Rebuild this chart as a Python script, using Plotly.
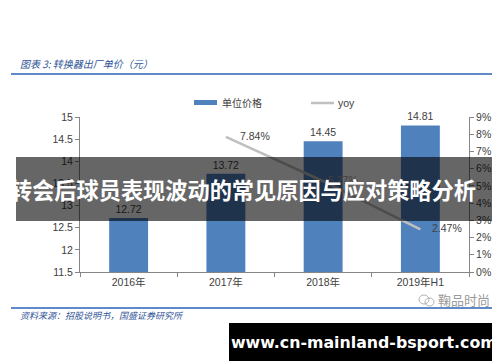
import plotly.graph_objects as go

categories = ["2016年", "2017年", "2018年", "2019年H1"]
unit_price = [12.72, 13.72, 14.45, 14.81]
yoy_cats = ["2017年", "2018年", "2019年H1"]
yoy_vals = [7.84, 5.27, 2.47]
yoy_labels = ["7.84%", "5.27%", "2.47%"]
left_ticks = [11.5, 12, 12.5, 13, 13.5, 14, 14.5, 15]
right_ticks = [0, 1, 2, 3, 4, 5, 6, 7, 8, 9]

W, H = 500, 362
ML, MR, MT, MB = 72, 39, 109, 98
PW, PH = W - ML - MR, H - MT - MB

def px(x):
    return (x - ML) / PW

def py(y):
    return (H - MB - y) / PH

FONT = "Liberation Sans, Noto Sans CJK SC, sans-serif"
CJK = "Noto Sans CJK SC, sans-serif"
AXIS_COLOR = "#868686"
TXT = "#404040"
BLUE_TXT = "#2f5597"

fig = go.Figure()
fig.add_trace(go.Bar(
    x=categories, y=unit_price, width=0.4,
    marker=dict(color="#4f81bd", line=dict(width=0)),
    text=[f"{v:.2f}" for v in unit_price], textposition="outside",
    textfont=dict(size=10.5, color=TXT, family=FONT),
    cliponaxis=False, showlegend=False, yaxis="y",
))
fig.add_trace(go.Scatter(
    x=yoy_cats, y=yoy_vals, mode="lines",
    line=dict(color="#bfbfbf", width=2.5),
    showlegend=False, yaxis="y2", cliponaxis=False,
))

annotations = []
shifts = [12, 3, 10]
for c, v, lab, s in zip(yoy_cats, yoy_vals, yoy_labels, shifts):
    annotations.append(dict(x=c, y=v, xref="x", yref="y2", text=lab, showarrow=False,
                            xanchor="left", yanchor="middle", xshift=s, yshift=1,
                            font=dict(size=10.5, color=TXT, family=FONT)))

shapes = []
shapes.append(dict(type="line", xref="paper", yref="paper", x0=px(3), x1=px(500),
                   y0=py(66), y1=py(66), line=dict(color="#2a62b5", width=1.5)))
shapes.append(dict(type="line", xref="paper", yref="paper", x0=px(3), x1=px(500),
                   y0=py(300), y1=py(300), line=dict(color="#2a62b5", width=1.5)))
# legend
shapes.append(dict(type="rect", xref="paper", yref="paper", x0=px(186), x1=px(209),
                   y0=py(97), y1=py(92), fillcolor="#4f81bd", line=dict(width=0)))
shapes.append(dict(type="line", xref="paper", yref="paper", x0=px(303), x1=px(326),
                   y0=py(95), y1=py(95), line=dict(color="#bfbfbf", width=2.5)))
# overlay banner
shapes.append(dict(type="rect", xref="paper", yref="paper", x0=px(8), x1=px(492),
                   y0=py(213), y1=py(149), fillcolor="rgba(0,0,0,0.6)", line=dict(width=0),
                   layer="above"))
# url box
shapes.append(dict(type="rect", xref="paper", yref="paper", x0=px(221), x1=px(491),
                   y0=py(353), y1=py(315), fillcolor="#000000", line=dict(width=0),
                   layer="above"))
# watermark icon
shapes.append(dict(type="circle", xref="paper", yref="paper", x0=px(411), x1=px(421),
                   y0=py(296), y1=py(287), line=dict(color="#b0b0b0", width=1)))
shapes.append(dict(type="circle", xref="paper", yref="paper", x0=px(417), x1=px(426),
                   y0=py(298), y1=py(290), line=dict(color="#b0b0b0", width=1)))

annotations += [
    dict(xref="paper", yref="paper", x=px(10), y=py(55), text="<i>图表 3: 转换器出厂单价（元）</i>",
         showarrow=False, xanchor="left", yanchor="middle",
         font=dict(size=10, color=BLUE_TXT, family=CJK)),
    dict(xref="paper", yref="paper", x=px(10), y=py(307), text="<i>资料来源：招股说明书，国盛证券研究所</i>",
         showarrow=False, xanchor="left", yanchor="middle",
         font=dict(size=9, color=BLUE_TXT, family=CJK)),
    dict(xref="paper", yref="paper", x=px(212), y=py(94.5), text="单位价格",
         showarrow=False, xanchor="left", yanchor="middle",
         font=dict(size=10, color=TXT, family=CJK)),
    dict(xref="paper", yref="paper", x=px(328), y=py(95), text="yoy",
         showarrow=False, xanchor="left", yanchor="middle",
         font=dict(size=10.5, color=TXT, family=FONT)),
    dict(xref="paper", yref="paper", x=px(428), y=py(291), text="鞠品时尚",
         showarrow=False, xanchor="left", yanchor="middle",
         font=dict(size=13, color="#9a9a9a", family=CJK)),
    dict(xref="paper", yref="paper", x=px(0), y=py(181), text="<b>转会后球员表现波动的常见原因与应对策略分析</b>",
         showarrow=False, xanchor="left", yanchor="middle",
         font=dict(size=22.2, color="#ffffff", family=CJK)),
    dict(xref="paper", yref="paper", x=px(356), y=py(334), text="<b>www.cn-mainland-bsport.com</b>",
         showarrow=False, xanchor="center", yanchor="middle",
         font=dict(size=15.8, color="#ffffff", family="DejaVu Sans, sans-serif")),
]

fig.update_layout(
    width=W, height=H, margin=dict(l=ML, r=MR, t=MT, b=MB),
    paper_bgcolor="#ffffff", plot_bgcolor="#ffffff",
    showlegend=False,
    xaxis=dict(type="category", categoryorder="array", categoryarray=categories,
               range=[-0.5, 3.5], showline=True, linecolor=AXIS_COLOR, linewidth=1,
               ticks="outside", tickson="boundaries", ticklen=4, tickcolor=AXIS_COLOR,
               showgrid=False, tickfont=dict(size=10.5, color=TXT, family=FONT)),
    yaxis=dict(range=[11.5, 15], tickvals=left_ticks, ticktext=[f"{v:g}" for v in left_ticks],
               showline=True, linecolor=AXIS_COLOR, linewidth=1, ticks="outside",
               ticklen=4, tickcolor=AXIS_COLOR, showgrid=False, zeroline=False,
               tickfont=dict(size=10.5, color=TXT, family=FONT)),
    yaxis2=dict(range=[0, 9], tickvals=right_ticks, ticktext=[f"{v}%" for v in right_ticks],
                overlaying="y", side="right", showline=True, linecolor=AXIS_COLOR,
                linewidth=1, ticks="outside", ticklen=4, tickcolor=AXIS_COLOR,
                showgrid=False, zeroline=False,
                tickfont=dict(size=10.5, color=TXT, family=FONT)),
    shapes=shapes, annotations=annotations,
)

fig.write_html("out.html")
